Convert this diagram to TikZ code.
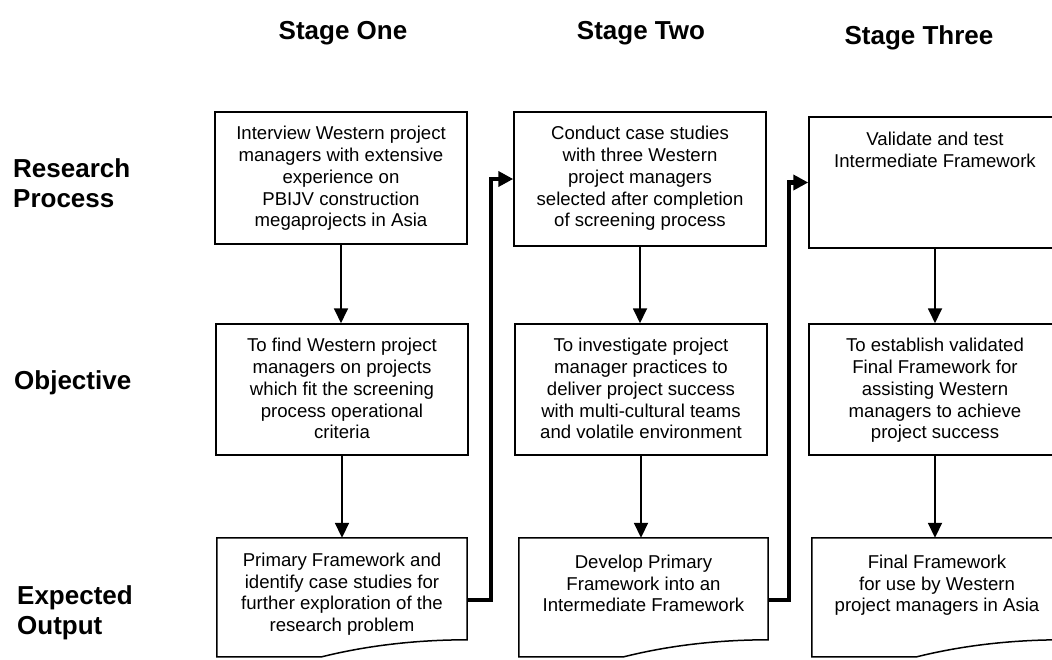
\documentclass[tikz,border=0pt]{standalone}
\usepackage{fontspec}
\setmainfont{Liberation Sans}
\usetikzlibrary{arrows.meta,calc}
\begin{document}
\begin{tikzpicture}[x=1pt,y=-1pt,
  boxframe/.style={draw, line width=1.5pt, inner sep=0pt, minimum width=252pt},
  docarea/.style={inner sep=0pt, minimum height=124pt},
  boxtext/.style={anchor=north, inner sep=0pt, align=center,
    font=\fontsize{18.6}{21.7}\selectfont},
  heading/.style={inner sep=0pt, font=\fontsize{26}{30}\selectfont\bfseries},
  rowlabel/.style={heading, anchor=north west, align=left},
  flow/.style={line width=1.8pt, -{Triangle[length=15pt,width=14pt]}},
  link/.style={line width=4.5pt, line join=miter, -{Triangle[length=15pt,width=15pt]}}
]
\useasboundingbox (0,0) rectangle (1052,659);

% column headings
\node[heading, anchor=base] (s1) at (343,39) {Stage One};
\node[heading, anchor=base] (s2) at (641,39) {Stage Two};
\node[heading, anchor=base] (s3) at (919,44) {Stage Three};

% row labels
\node[rowlabel] (l1) at (13,158) {Research\\Process};
\node[rowlabel] (l2) at (14,370) {Objective};
\node[rowlabel] (l3) at (17,585) {Expected\\Output};

% research process boxes
\node[boxframe, minimum height=132pt] (r1) at (341,178) {};
\node[boxframe, minimum height=134pt] (r2) at (640,179) {};
\node[boxframe, minimum height=131pt] (r3) at (935,182.5) {};

% objective boxes
\node[boxframe, minimum height=131pt] (o1) at (342,389.5) {};
\node[boxframe, minimum height=131pt] (o2) at (641,389.5) {};
\node[boxframe, minimum height=131pt] (o3) at (935,389.5) {};

% expected output areas (document shape drawn below)
\node[docarea, minimum width=250pt] (e1) at (342,600) {};
\node[docarea, minimum width=249pt] (e2) at (643.5,600) {};
\node[docarea, minimum width=250pt] (e3) at (937,600) {};

\foreach \n in {e1,e2,e3} {
  \draw[line width=1.5pt, line join=miter]
    (\n.north west) -- (\n.north east) -- ($(\n.north east)+(0,102)$)
    .. controls ($(\n.north east)+(-67,102)$) and ($(\n.north west)+(133,112)$)
    .. ($(\n.north west)+(105,119)$)
    -- ($(\n.north west)+(0,119)$) -- cycle;
}

% box texts
\node[boxtext] (t-r1) at ($(r1.north)+(0,15)$)
  {Interview Western project\\managers with extensive\\experience on\\PBIJV construction\\megaprojects in Asia};
\node[boxtext] (t-r2) at ($(r2.north)+(0,15)$)
  {Conduct case studies\\with three Western\\project managers\\selected after completion\\of screening process};
\node[boxtext] (t-r3) at ($(r3.north)+(0,16)$)
  {Validate and test\\Intermediate Framework};

\node[boxtext] (t-o1) at ($(o1.north)+(0,15)$)
  {To find Western project\\managers on projects\\which fit the screening\\process operational\\criteria};
\node[boxtext] (t-o2) at ($(o2.north)+(0,15)$)
  {To investigate project\\manager practices to\\deliver project success\\with multi-cultural teams\\and volatile environment};
\node[boxtext] (t-o3) at ($(o3.north)+(0,15)$)
  {To establish validated\\Final Framework for\\assisting Western\\managers to achieve\\project success};

\node[boxtext] (t-e1) at ($(e1.north)+(0,15)$)
  {Primary Framework and\\identify case studies for\\further exploration of the\\research problem};
\node[boxtext] (t-e2) at ($(e2.north)+(0,17)$)
  {Develop Primary\\Framework into an\\Intermediate Framework};
\node[boxtext] (t-e3) at ($(e3.north)+(0,17)$)
  {Final Framework\\for use by Western\\project managers in Asia};

% vertical flow within each stage
\draw[flow] (r1.south) -- (r1.south |- o1.north);
\draw[flow] (r2.south) -- (r2.south |- o2.north);
\draw[flow] (r3.south) -- (r3.south |- o3.north);
\draw[flow] (o1.south) -- (o1.south |- e1.north);
\draw[flow] (o2.south) -- (o2.south |- e2.north);
\draw[flow] (o3.south) -- (o3.south |- e3.north);

% links from each stage output to the next stage
\draw[link] (e1.east) -- ++(24,0) |- (r2.west);
\draw[link] (e2.east) -- ++(21,0) |- (r3.west);
\end{tikzpicture}
\end{document}
